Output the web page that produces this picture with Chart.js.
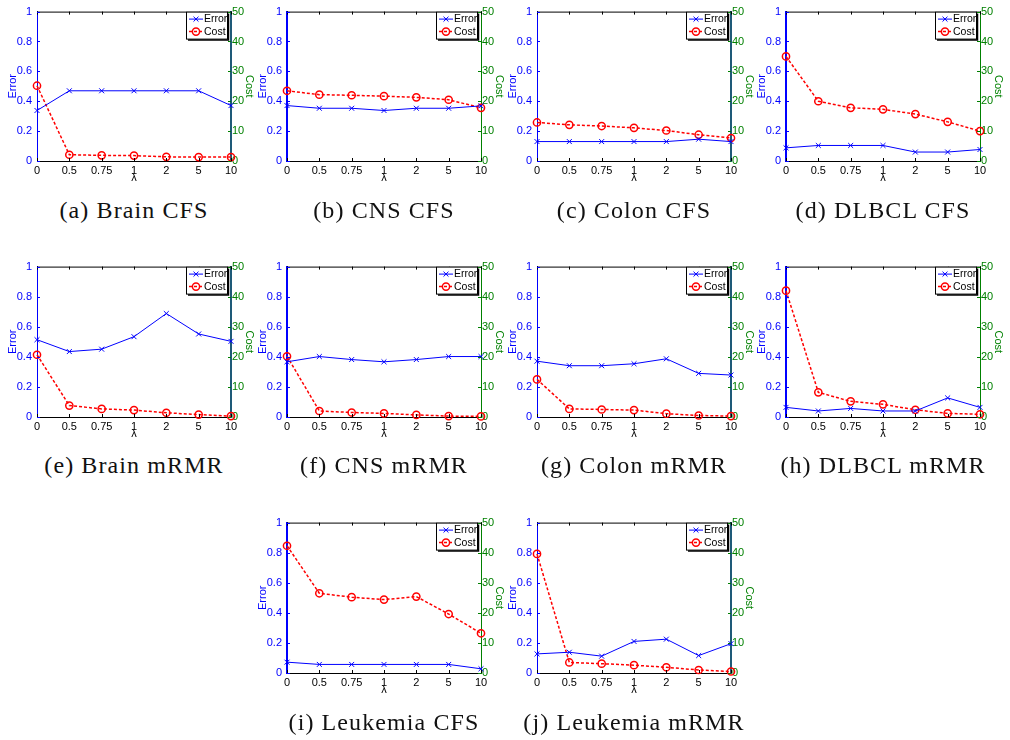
<!DOCTYPE html>
<html>
<head>
<meta charset="utf-8">
<script src="https://cdn.jsdelivr.net/npm/chart.js@4.4.0/dist/chart.umd.min.js"></script>
<style>
  body { margin: 0; background: #fff; width: 1010px; height: 740px; position: relative; overflow: hidden; }
  canvas.panel { position: absolute; }
  .cap { position: absolute; font-family: "Liberation Serif", "Times New Roman", serif; font-size: 24px;
         letter-spacing: 1.1px; line-height: 26px; color: #111; white-space: nowrap; transform: translateX(-50%); }
</style>
</head>
<body>
<script>
// lambda values on the x axis
const lambdas = ['0', '0.5', '0.75', '1', '2', '5', '10'];

// classification error (left axis, 0..1) and selection cost (right axis, 0..50) per experiment
const errBrainCFS     = [0.338, 0.470, 0.470, 0.470, 0.470, 0.470, 0.371];
const costBrainCFS    = [25.2, 2.1, 1.9, 1.8, 1.4, 1.3, 1.3];
const errCnsCFS       = [0.371, 0.353, 0.353, 0.338, 0.353, 0.353, 0.369];
const costCnsCFS      = [23.5, 22.2, 22.0, 21.7, 21.3, 20.5, 17.8];
const errColonCFS     = [0.130, 0.130, 0.130, 0.130, 0.130, 0.146, 0.130];
const costColonCFS    = [12.9, 12.1, 11.7, 11.1, 10.2, 8.8, 7.7];
const errDlbclCFS     = [0.088, 0.104, 0.104, 0.104, 0.060, 0.060, 0.077];
const costDlbclCFS    = [35.0, 20.0, 17.8, 17.3, 15.7, 13.1, 10.0];
const errBrainMRMR    = [0.514, 0.435, 0.451, 0.534, 0.688, 0.552, 0.503];
const costBrainMRMR   = [20.7, 3.8, 2.7, 2.3, 1.4, 0.8, 0.3];
const errCnsMRMR      = [0.367, 0.402, 0.382, 0.367, 0.382, 0.402, 0.402];
const costCnsMRMR     = [20.2, 2.0, 1.5, 1.2, 0.7, 0.3, 0.2];
const errColonMRMR    = [0.371, 0.341, 0.341, 0.354, 0.387, 0.290, 0.279];
const costColonMRMR   = [12.5, 2.7, 2.5, 2.3, 1.1, 0.5, 0.3];
const errDlbclMRMR    = [0.064, 0.040, 0.057, 0.040, 0.040, 0.127, 0.064];
const costDlbclMRMR   = [42.0, 8.2, 5.2, 4.2, 2.4, 1.2, 0.9];
const errLeukCFS      = [0.072, 0.057, 0.057, 0.057, 0.057, 0.057, 0.028];
const costLeukCFS     = [42.3, 26.5, 25.2, 24.4, 25.4, 19.6, 13.2];
const errLeukMRMR     = [0.127, 0.138, 0.112, 0.210, 0.225, 0.116, 0.195];
const costLeukMRMR    = [39.6, 3.5, 3.1, 2.6, 1.9, 1.0, 0.5];

const captions = ['(a) Brain CFS', '(b) CNS CFS', '(c) Colon CFS', '(d) DLBCL CFS',
                  '(e) Brain mRMR', '(f) CNS mRMR', '(g) Colon mRMR', '(h) DLBCL mRMR',
                  '(i) Leukemia CFS', '(j) Leukemia mRMR'];
const errorSeries = [errBrainCFS, errCnsCFS, errColonCFS, errDlbclCFS,
                     errBrainMRMR, errCnsMRMR, errColonMRMR, errDlbclMRMR,
                     errLeukCFS, errLeukMRMR];
const costSeries  = [costBrainCFS, costCnsCFS, costColonCFS, costDlbclCFS,
                     costBrainMRMR, costCnsMRMR, costColonMRMR, costDlbclMRMR,
                     costLeukCFS, costLeukMRMR];

// panel placement: plot-area left/top/height in page pixels, caption centre y
const plotLeft   = [37, 287, 537, 786, 37, 287, 537, 786, 287, 537];
const plotTop    = [10, 10, 10, 10, 265, 265, 265, 265, 521, 521];
const plotHeight = [151, 151, 151, 151, 152, 152, 152, 152, 152, 152];
const captionY   = [210, 210, 210, 210, 465, 465, 465, 465, 722, 722];
// frame look: true = thin blue left edge with dark teal right edge
const tealFrame  = [true, false, true, false, true, false, true, false, false, true];

const PLOT_W = 194, AXIS_L = 37, AXIS_R = 31, AXIS_B = 24, PAD_T = 10;
const BLUE = '#0000ff', RED = '#ff0000', GREEN = '#008000', TEAL = '#1e5a78';
const SANS = '"Liberation Sans", Arial, Helvetica, sans-serif';

// plain number labels: 0, 0.2, ..., 1
const plainNumber = v => String(Math.round(v * 100) / 100);

// inward tick marks and the top edge of the frame
const frameTicks = {
  id: 'frameTicks',
  afterDraw(chart) {
    const { ctx, chartArea: a, scales } = chart;
    ctx.save();
    ctx.lineWidth = 1;
    ctx.strokeStyle = '#000';
    ctx.beginPath();
    ctx.moveTo(a.left, a.top + 0.5); ctx.lineTo(a.right, a.top + 0.5);
    scales.x.ticks.forEach((t, k) => {
      const px = Math.round(scales.x.getPixelForTick(k)) + 0.5;
      ctx.moveTo(px, a.bottom); ctx.lineTo(px, a.bottom - 3);
      ctx.moveTo(px, a.top); ctx.lineTo(px, a.top + 3);
    });
    ctx.stroke();
    ctx.strokeStyle = BLUE;
    ctx.beginPath();
    scales.y.ticks.forEach(t => {
      const py = Math.round(scales.y.getPixelForValue(t.value)) + 0.5;
      ctx.moveTo(a.left, py); ctx.lineTo(a.left + 3, py);
    });
    ctx.stroke();
    ctx.strokeStyle = GREEN;
    ctx.beginPath();
    scales.y2.ticks.forEach(t => {
      const py = Math.round(scales.y2.getPixelForValue(t.value)) + 0.5;
      ctx.moveTo(a.right, py); ctx.lineTo(a.right - 3, py);
    });
    ctx.stroke();
    ctx.restore();
  }
};

// boxed legend in the upper right corner of the plot area
function drawMarker(ctx, ds, x, y) {
  Chart.helpers.drawPoint(ctx, {
    pointStyle: ds.pointStyle, radius: ds.pointRadius, borderWidth: ds.pointBorderWidth, rotation: 0
  }, x, y);
}
const boxLegend = {
  id: 'boxLegend',
  afterDraw(chart) {
    const { ctx, chartArea: a } = chart;
    const w = 41, h = 27;
    const x0 = a.right - w - 4, y0 = a.top;
    ctx.save();
    ctx.fillStyle = '#fff';
    ctx.fillRect(x0, y0, w, h);
    ctx.strokeStyle = '#000';
    ctx.lineWidth = 1;
    ctx.strokeRect(x0 + 0.5, y0 + 0.5, w, h);
    ctx.lineWidth = 1.5;
    ctx.beginPath();
    ctx.moveTo(x0 + 2, y0 + h + 1.5); ctx.lineTo(x0 + w + 1.5, y0 + h + 1.5); ctx.lineTo(x0 + w + 1.5, y0 + 2);
    ctx.stroke();
    ctx.font = '10.5px ' + SANS;
    ctx.textBaseline = 'middle';
    ctx.textAlign = 'left';
    chart.data.datasets.forEach((ds, k) => {
      const yy = y0 + 7.5 + k * 12.5;
      ctx.strokeStyle = ds.borderColor;
      ctx.lineWidth = ds.borderWidth;
      ctx.setLineDash(ds.borderDash || []);
      ctx.beginPath(); ctx.moveTo(x0 + 3, yy); ctx.lineTo(x0 + 17, yy); ctx.stroke();
      ctx.setLineDash([]);
      ctx.strokeStyle = ds.pointBorderColor;
      ctx.fillStyle = 'rgba(0,0,0,0)';
      drawMarker(ctx, ds, x0 + 10, yy);
      ctx.fillStyle = '#000';
      ctx.fillText(ds.label, x0 + 18, yy + 0.5);
    });
    ctx.restore();
  }
};

function buildPanel(i) {
  const W = AXIS_L + PLOT_W + AXIS_R;
  const H = PAD_T + plotHeight[i] + AXIS_B;
  const cv = document.createElement('canvas');
  cv.className = 'panel';
  cv.width = W; cv.height = H;
  cv.style.width = W + 'px'; cv.style.height = H + 'px';
  cv.style.left = (plotLeft[i] - AXIS_L) + 'px';
  cv.style.top = (plotTop[i] - PAD_T) + 'px';
  document.body.appendChild(cv);

  const cap = document.createElement('div');
  cap.className = 'cap';
  cap.textContent = captions[i];
  cap.style.left = (plotLeft[i] + PLOT_W / 2) + 'px';
  cap.style.top = (captionY[i] - 13) + 'px';
  document.body.appendChild(cap);

  const tickFont = { family: SANS, size: 11 };
  new Chart(cv, {
    type: 'line',
    data: {
      labels: lambdas,
      datasets: [
        { label: 'Error', data: errorSeries[i], yAxisID: 'y', clip: false,
          borderColor: BLUE, borderWidth: 1, tension: 0, fill: false,
          pointStyle: 'crossRot', pointRadius: 3.5, pointBorderWidth: 1,
          pointBorderColor: BLUE, pointBackgroundColor: BLUE },
        { label: 'Cost', data: costSeries[i], yAxisID: 'y2', clip: false,
          borderColor: RED, borderWidth: 1.5, borderDash: [3, 2], tension: 0, fill: false,
          pointStyle: 'circle', pointRadius: 3.6, pointBorderWidth: 1.5,
          pointBorderColor: RED, pointBackgroundColor: 'rgba(0,0,0,0)' }
      ]
    },
    options: {
      responsive: false, animation: false, devicePixelRatio: 1,
      layout: { padding: { top: PAD_T, left: 0, right: 0, bottom: 0 } },
      plugins: { legend: { display: false }, tooltip: { enabled: false } },
      scales: {
        x: {
          type: 'category', offset: false,
          grid: { display: false, drawTicks: false },
          border: { color: '#000', width: 1 },
          ticks: { color: '#000', font: tickFont, padding: 3, maxRotation: 0, autoSkip: false },
          title: { display: true, text: 'λ', color: '#000', font: tickFont, padding: { top: 0, bottom: 0 } },
          afterFit(s) { s.height = AXIS_B; }
        },
        y: {
          position: 'left', min: 0, max: 1,
          grid: { display: false, drawTicks: false },
          border: { color: BLUE, width: tealFrame[i] ? 1 : 2 },
          ticks: { stepSize: 0.2, color: BLUE, font: tickFont, padding: 5, callback: plainNumber },
          title: { display: true, text: 'Error', color: BLUE, font: tickFont, padding: { top: 6, bottom: 0 } },
          afterFit(s) { s.width = AXIS_L; }
        },
        y2: {
          position: 'right', min: 0, max: 50,
          grid: { display: false, drawTicks: false },
          border: { color: tealFrame[i] ? TEAL : GREEN, width: tealFrame[i] ? 2 : 1 },
          ticks: { stepSize: 10, color: GREEN, font: tickFont, padding: 1, callback: plainNumber },
          title: { display: true, text: 'Cost', color: GREEN, font: tickFont, padding: { top: 6, bottom: 0 } },
          afterFit(s) { s.width = AXIS_R; }
        }
      }
    },
    plugins: [frameTicks, boxLegend]
  });
}

for (let i = 0; i < captions.length; i++) buildPanel(i);
</script>
</body>
</html>
